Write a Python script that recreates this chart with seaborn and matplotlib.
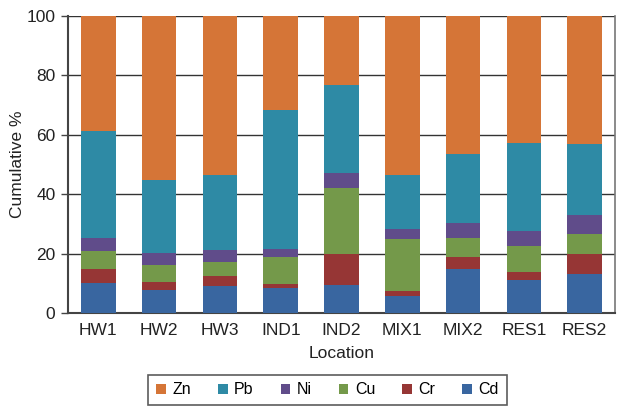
import numpy as np
import pandas as pd
import seaborn as sns
import matplotlib.pyplot as plt
from matplotlib.patches import Patch

# Data (percent of total per location)
locations = ['HW1', 'HW2', 'HW3', 'IND1', 'IND2', 'MIX1', 'MIX2', 'RES1', 'RES2']
cd = [10.2, 7.9, 9.3, 8.6, 9.5, 5.9, 14.9, 11.3, 13.3]
cr = [4.8, 2.6, 3.2, 1.2, 10.4, 1.6, 4.0, 2.6, 6.6]
cu = [5.9, 5.7, 4.7, 9.1, 22.2, 17.5, 6.4, 8.7, 6.7]
ni = [4.5, 4.1, 4.1, 2.7, 5.1, 3.3, 5.0, 5.1, 6.4]
pb = [35.9, 24.5, 25.2, 46.8, 29.5, 18.2, 23.3, 29.5, 23.9]
zn = [38.7, 55.2, 53.5, 31.6, 23.3, 53.5, 46.4, 42.8, 43.1]

metals = ['Cd', 'Cr', 'Cu', 'Ni', 'Pb', 'Zn']
colors = {'Zn': '#D57537', 'Pb': '#2E8AA5', 'Ni': '#604C8A',
          'Cu': '#74994A', 'Cr': '#963635', 'Cd': '#3966A0'}

df = pd.DataFrame({'Location': locations, 'Cd': cd, 'Cr': cr, 'Cu': cu,
                   'Ni': ni, 'Pb': pb, 'Zn': zn})
cum = df[metals].cumsum(axis=1)
cum['Location'] = df['Location']

plt.rcParams['font.family'] = ['Liberation Sans', 'DejaVu Sans']
fig = plt.figure(figsize=(6.23, 4.09), dpi=100)
ax = fig.add_axes([68 / 623, 1 - 313.3 / 409, 547 / 623, 297.6 / 409])

# draw cumulative totals from the top layer down so each overlays the last
for m in reversed(metals):
    sns.barplot(data=cum, x='Location', y=m, color=colors[m], width=0.57,
                saturation=1, ax=ax, zorder=3)

ax.set_ylim(0, 100)
ax.set_xlim(-0.5, 8.5)
ax.set_yticks(range(0, 101, 20))
ax.grid(axis='y', color='#333333', lw=1, zorder=0)
ax.set_axisbelow(True)
ax.set_ylabel('Cumulative %', fontsize=12.5, color='#222222', labelpad=1)
ax.set_xlabel('Location', fontsize=12.5, color='#222222', labelpad=6)
ax.tick_params(axis='y', length=5, width=1, color='#444444', labelsize=12.5,
               labelcolor='#222222', pad=4)
ax.tick_params(axis='x', length=0, labelsize=12.5, labelcolor='#222222', pad=7)
for s in ['left', 'bottom']:
    ax.spines[s].set_color('#444444')
    ax.spines[s].set_linewidth(1.5)
ax.spines['right'].set_color('#777777')
ax.spines['right'].set_linewidth(1.2)
ax.spines['top'].set_visible(False)

handles = [Patch(facecolor=colors[m], label=m) for m in reversed(metals)]
leg = fig.legend(handles=handles, loc='center', bbox_to_anchor=(327.5 / 623, 1 - 390 / 409),
                 ncol=6, frameon=True, fancybox=False, fontsize=11.5,
                 handlelength=0.6, handleheight=0.6, handletextpad=0.4,
                 columnspacing=1.7, borderpad=0.5)
leg.get_frame().set_edgecolor('#333333')
leg.get_frame().set_linewidth(1.2)

fig.savefig('out.png', dpi=100)
